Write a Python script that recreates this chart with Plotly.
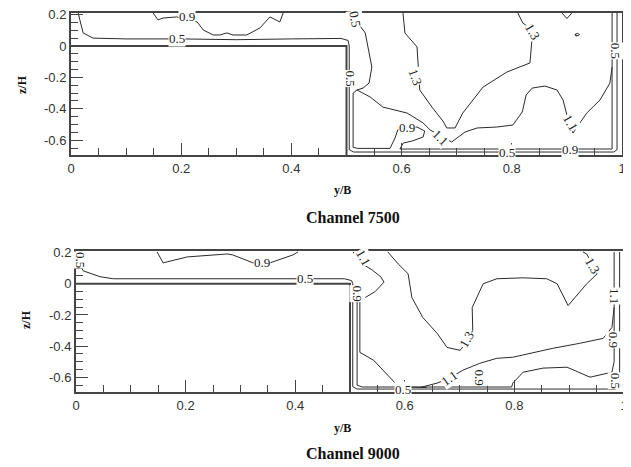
import plotly.graph_objects as go

# ---------------- data (y/B, z/H) ----------------
x_ticks = [0, 0.2, 0.4, 0.6, 0.8, 1]
x_ticktext = ["0", "0.2", "0.4", "0.6", "0.8", "1"]
z_ticks = [-0.6, -0.4, -0.2, 0, 0.2]
z_ticktext = ["-0.6", "-0.4", "-0.2", "0", "0.2"]
z_range = [-0.694, 0.21]

wall_y = [0, 0.5, 0.5]
wall_z = [0, 0, -0.694]

# Channel 7500 contour lines
t05a_y = [0.013, 0.018, 0.022, 0.04, 0.1, 0.2, 0.3, 0.4, 0.49, 0.503, 0.505, 0.505, 0.513, 0.985, 0.991, 0.991]
t05a_z = [0.21, 0.13, 0.083, 0.05, 0.045, 0.045, 0.04, 0.045, 0.048, 0.035, 0.0, -0.66, -0.675, -0.675, -0.66, 0.21]
t09w_y = [0.519, 0.512, 0.512, 0.52, 0.579, 0.588, 0.593, 0.61, 0.628, 0.642, 0.639, 0.619, 0.603, 0.597, 0.62, 0.982, 0.982]
t09w_z = [-0.28, -0.3, -0.645, -0.652, -0.652, -0.586, -0.535, -0.516, -0.516, -0.541, -0.58, -0.605, -0.618, -0.656, -0.656, -0.656, 0.21]
t05b_y = [0.516, 0.522, 0.534, 0.540, 0.546, 0.541, 0.53, 0.519]
t05b_z = [0.21, 0.14, 0.083, -0.02, -0.134, -0.236, -0.268, -0.28]
t11_y = [0.519, 0.543, 0.566, 0.61, 0.639, 0.652, 0.675, 0.691, 0.715, 0.737, 0.773, 0.802, 0.819, 0.826, 0.837,
         0.86, 0.882, 0.893, 0.9, 0.911, 0.936, 0.96, 0.978, 0.982]
t11_z = [-0.28, -0.325, -0.389, -0.427, -0.49, -0.535, -0.58, -0.611, -0.548, -0.522, -0.516, -0.503, -0.42, -0.312, -0.268,
         -0.255, -0.28, -0.344, -0.439, -0.554, -0.427, -0.344, -0.236, -0.134]
t13_y = [0.6025, 0.606, 0.628, 0.630, 0.633, 0.655, 0.675, 0.682, 0.697, 0.711, 0.748, 0.791, 0.833, 0.838, 0.820, 0.811]
t13_z = [0.21, 0.083, -0.006, -0.134, -0.280, -0.389, -0.478, -0.522, -0.522, -0.427, -0.261, -0.166, -0.108, 0.102, 0.146, 0.21]
t09t_y = [0.149, 0.158, 0.167, 0.192, 0.229, 0.240, 0.258, 0.270, 0.283, 0.294, 0.319, 0.343, 0.361, 0.379, 0.385]
t09t_z = [0.21, 0.166, 0.178, 0.185, 0.153, 0.102, 0.070, 0.070, 0.083, 0.070, 0.070, 0.115, 0.185, 0.153, 0.21]
t13v_y = [0.891, 0.9, 0.909]
t13v_z = [0.21, 0.175, 0.21]
t15i_y = [0.915, 0.919, 0.923, 0.921, 0.916, 0.915, 0.917]
t15i_z = [0.075, 0.08, 0.074, 0.066, 0.068, 0.075, 0.06]

t_lab_text = ["0.9", "0.5", "0.5", "0.5", "1.3", "1.3", "0.9", "1.1", "1.1", "0.5", "0.9", "0.5"]
t_lab_y = [0.21, 0.192, 0.516, 0.507, 0.624, 0.837, 0.61, 0.67, 0.906, 0.791, 0.906, 0.987]
t_lab_z = [0.185, 0.045, 0.17, -0.21, -0.197, 0.09, -0.52, -0.585, -0.49, -0.675, -0.66, -0.03]
t_lab_ang = [0, 0, 80, 90, 70, 60, 0, 45, 60, 0, 0, 90]

# Channel 9000 contour lines
b05a_y = [0.006, 0.008, 0.013, 0.029, 0.044, 0.068, 0.12, 0.3, 0.49, 0.503, 0.505, 0.505, 0.513, 0.985, 0.992, 0.992]
b05a_z = [0.204, 0.12, 0.083, 0.064, 0.045, 0.032, 0.032, 0.032, 0.032, 0.02, 0.0, -0.66, -0.675, -0.675, -0.66, 0.204]
b09w_y = [0.513, 0.513, 0.522, 0.795, 0.797, 0.816, 0.852, 0.896, 0.938, 0.978, 0.982, 0.982]
b09w_z = [-0.07, -0.65, -0.662, -0.662, -0.637, -0.567, -0.541, -0.535, -0.599, -0.567, -0.5, 0.204]
b05d_y = [0.518, 0.518, 0.518, 0.543, 0.573, 0.586, 0.6, 0.64]
b05d_z = [-0.108, -0.3, -0.44, -0.49, -0.597, -0.65, -0.662, -0.665]
b11a_y = [0.506, 0.516, 0.54, 0.556, 0.562, 0.546, 0.527, 0.518]
b11a_z = [0.204, 0.14, 0.09, 0.045, 0.01, -0.05, -0.09, -0.108]
b13_y = [0.569, 0.588, 0.606, 0.613, 0.633, 0.659, 0.677, 0.701, 0.715, 0.724, 0.723, 0.743, 0.768, 0.816, 0.859,
         0.878, 0.898, 0.932, 0.951, 0.943, 0.932, 0.925]
b13_z = [0.204, 0.127, 0.064, -0.089, -0.217, -0.318, -0.408, -0.427, -0.363, -0.299, -0.153, 0.0, 0.032, 0.038, 0.032,
         0.0, -0.14, 0.0, 0.064, 0.115, 0.191, 0.204]
b11b_y = [0.628, 0.659, 0.682, 0.706, 0.737, 0.768, 0.797, 0.828, 0.87, 0.919, 0.962, 0.978, 0.982]
b11b_z = [-0.665, -0.637, -0.605, -0.554, -0.51, -0.478, -0.471, -0.446, -0.414, -0.382, -0.35, -0.28, -0.15]
b09t_y = [0.148, 0.159, 0.203, 0.276, 0.286, 0.323, 0.339, 0.354, 0.396, 0.405]
b09t_z = [0.204, 0.134, 0.172, 0.191, 0.185, 0.134, 0.134, 0.134, 0.185, 0.204]

b_lab_text = ["0.5", "0.9", "0.5", "1.1", "0.9", "1.3", "1.3", "1.1", "0.9", "0.5", "1.1", "0.9", "0.5"]
b_lab_y = [0.008, 0.339, 0.418, 0.524, 0.513, 0.713, 0.943, 0.68, 0.737, 0.597, 0.984, 0.98, 0.985]
b_lab_z = [0.15, 0.134, 0.032, 0.166, -0.064, -0.36, 0.12, -0.605, -0.6, -0.675, -0.08, -0.36, -0.62]
b_lab_ang = [90, 0, 0, 60, 90, -60, 60, -35, 90, 0, 90, 90, 90]

panel_titles = ["Channel 7500", "Channel 9000"]

# ---------------- figure ----------------
# the page body has an 8px margin, so the figure starts at (8, 8) in the window
OFF = 8
W, H = 631 - OFF, 467 - OFF
LINE = "#2b2b2b"
FRAME = "#444444"


def px(xp):
    return (xp - OFF) / W


def py(yp):
    return 1 - (yp - OFF) / H


fig = go.Figure()


def add_line(ys, zs, xa, ya, width=1.0, color=LINE):
    fig.add_trace(go.Scatter(x=ys, y=zs, mode="lines", xaxis=xa, yaxis=ya,
                             line=dict(color=color, width=width), hoverinfo="skip",
                             showlegend=False))


top_lines = [(t05a_y, t05a_z), (t09w_y, t09w_z), (t05b_y, t05b_z), (t11_y, t11_z),
             (t13_y, t13_z), (t09t_y, t09t_z), (t13v_y, t13v_z), (t15i_y, t15i_z)]
bot_lines = [(b05a_y, b05a_z), (b09w_y, b09w_z), (b05d_y, b05d_z), (b11a_y, b11a_z),
             (b13_y, b13_z), (b11b_y, b11b_z), (b09t_y, b09t_z)]

for ys, zs in top_lines:
    add_line(ys, zs, "x", "y")
add_line(wall_y, wall_z, "x", "y", width=2, color=FRAME)
for ys, zs in bot_lines:
    add_line(ys, zs, "x2", "y2")
add_line(wall_y, wall_z, "x2", "y2", width=2, color=FRAME)

tickfont = dict(family="Liberation Sans Narrow, Arial Narrow, Liberation Sans, Arial", size=13, color="#333")


def xaxis_cfg(domain, anchor):
    return dict(domain=domain, anchor=anchor, range=[0, 1], tickmode="array", tickvals=x_ticks,
                ticktext=x_ticktext, ticks="inside", ticklen=12, tickwidth=1.3, tickcolor=FRAME,
                minor=dict(tickmode="linear", tick0=0, dtick=0.05, ticks="inside", ticklen=7,
                           tickwidth=1.2, tickcolor=FRAME),
                showline=True, linewidth=2, linecolor=FRAME, mirror=True, automargin=False,
                ticklabeloverflow="allow",
                showgrid=False, zeroline=False, tickfont=tickfont, fixedrange=True)


def yaxis_cfg(domain, anchor):
    return dict(domain=domain, anchor=anchor, range=z_range, tickmode="array", tickvals=z_ticks,
                ticktext=z_ticktext, ticks="inside", ticklen=12, tickwidth=1.3, tickcolor=FRAME,
                minor=dict(tickmode="linear", tick0=0, dtick=0.05, ticks="inside", ticklen=7,
                           tickwidth=1.2, tickcolor=FRAME),
                showline=True, linewidth=2, linecolor=FRAME, mirror=True, automargin=False,
                ticklabeloverflow="allow",
                showgrid=False, zeroline=False, tickfont=tickfont, fixedrange=True)


top_x = [px(71), px(622)]
top_y = [py(155), py(13)]
bot_x = [px(76), px(624)]
bot_y = [py(392), py(251)]

fig.update_layout(
    width=W, height=H, margin=dict(l=0, r=0, t=0, b=0, autoexpand=False),
    paper_bgcolor="white", plot_bgcolor="white", showlegend=False,
    xaxis=xaxis_cfg(top_x, "y"), yaxis=yaxis_cfg(top_y, "x"),
    xaxis2=xaxis_cfg(bot_x, "y2"), yaxis2=yaxis_cfg(bot_y, "x2"),
)

labfont = dict(family="Liberation Serif, Times New Roman, serif", size=13, color="#222")
for txt, yy, zz, ang in zip(t_lab_text, t_lab_y, t_lab_z, t_lab_ang):
    fig.add_annotation(x=yy, y=zz, xref="x", yref="y", text=txt, showarrow=False, textangle=ang,
                       font=labfont, bgcolor="white", borderpad=0)
for txt, yy, zz, ang in zip(b_lab_text, b_lab_y, b_lab_z, b_lab_ang):
    fig.add_annotation(x=yy, y=zz, xref="x2", yref="y2", text=txt, showarrow=False, textangle=ang,
                       font=labfont, bgcolor="white", borderpad=0)

boldserif = dict(family="Liberation Serif, Times New Roman, serif", size=12, color="#111")
titlefont = dict(family="Liberation Serif, Times New Roman, serif", size=16, color="#111")

# axis titles and panel titles
for (xb, yt, ttl_y, zx, zy, title) in [(342, 190, 217, 22, 85, panel_titles[0]),
                                       (342, 428, 453, 26, 320, panel_titles[1])]:
    fig.add_annotation(x=px(xb), y=py(yt), xref="paper", yref="paper", text="<b>y/B</b>",
                       showarrow=False, font=boldserif, xanchor="center", yanchor="middle")
    fig.add_annotation(x=px(353), y=py(ttl_y), xref="paper", yref="paper", text="<b>" + title + "</b>",
                       showarrow=False, font=titlefont, xanchor="center", yanchor="middle")
    fig.add_annotation(x=px(zx), y=py(zy), xref="paper", yref="paper", text="<b>z/H</b>",
                       showarrow=False, font=boldserif, textangle=-90, xanchor="center", yanchor="middle")

fig.write_html("out.html")
